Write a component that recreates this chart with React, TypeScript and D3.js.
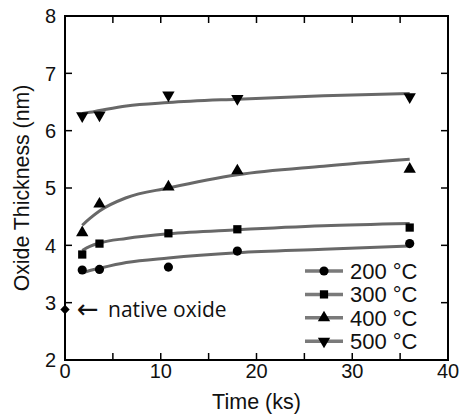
import React from 'react';
import * as d3 from 'd3';

const times = [1.8, 3.6, 10.8, 18, 36];
const seriesLabels = ['200 °C', '300 °C', '400 °C', '500 °C'];
const values200 = [3.57, 3.58, 3.62, 3.9, 4.03];
const values300 = [3.84, 4.03, 4.21, 4.28, 4.31];
const values400 = [4.22, 4.72, 5.02, 5.3, 5.33];
const values500 = [6.26, 6.27, 6.62, 6.56, 6.59];

const fitTimes = [1.8, 2.6, 3.6, 6.4, 10.8, 18, 27, 36];
const fit200 = [3.52, 3.56, 3.6, 3.7, 3.78, 3.87, 3.93, 3.99];
const fit300 = [3.91, 3.98, 4.04, 4.12, 4.2, 4.27, 4.34, 4.38];
const fit400 = [4.35, 4.47, 4.6, 4.83, 5.0, 5.23, 5.38, 5.5];
const fit500 = [6.3, 6.32, 6.35, 6.43, 6.49, 6.55, 6.61, 6.65];

const nativeTime = [0];
const nativeValue = [2.88];
const nativeLabel = 'native oxide';

const W = 461;
const H = 417;
const FONT = '"Liberation Sans", Arial, Helvetica, sans-serif';

export default function App() {
  const x = d3.scaleLinear().domain([0, 40]).range([65, 448]);
  const y = d3.scaleLinear().domain([2, 8]).range([360, 16]);

  const allValues = [values200, values300, values400, values500];
  const allFits = [fit200, fit300, fit400, fit500];
  const symbols = [d3.symbolCircle, d3.symbolSquare, d3.symbolTriangle, d3.symbolTriangle];
  const sizes = [66, 68, 66, 66];
  const rotations = [0, 0, 0, 180];

  const line = d3
    .line<[number, number]>()
    .x((d) => x(d[0]))
    .y((d) => y(d[1]))
    .curve(d3.curveMonotoneX);

  const curveColor = '#686868';

  const xMinor = x.ticks(8);
  const xMajor = x.ticks(4);
  const yTicks = y.ticks(6);
  const tl = 7;

  const legendX0 = 305;
  const legendX1 = 343;
  const legendY0 = 271;
  const legendDy = 23.4;

  return (
    <svg width={W} height={H} style={{ position: 'absolute', left: 0, top: 0, background: '#fff' }} fontFamily={FONT}>
      {/* fit curves */}
      {allFits.map((f, i) => (
        <path
          key={'fit' + i}
          d={line(fitTimes.map((t, j) => [t, f[j]] as [number, number])) || ''}
          fill="none"
          stroke={curveColor}
          strokeWidth={3}
        />
      ))}
      {/* markers */}
      {allValues.map((vals, i) =>
        vals.map((v, j) => (
          <path
            key={'m' + i + '-' + j}
            d={d3.symbol().type(symbols[i]).size(sizes[i])() || ''}
            transform={`translate(${x(times[j])},${y(v)}) rotate(${rotations[i]})`}
            fill="#000"
          />
        ))
      )}
      {/* native oxide */}
      {nativeTime.map((t, i) => (
        <g key={'n' + i}>
          <path
            d={d3.symbol().type(d3.symbolSquare).size(44)() || ''}
            transform={`translate(${x(t)},${y(nativeValue[i])}) rotate(45)`}
            fill="#000"
          />
          <text
            x={x(t) + 12}
            y={y(nativeValue[i]) + 8}
            fontSize={26}
            fill="#111"
            fontFamily='"DejaVu Sans", sans-serif'
          >
            ←
          </text>
          <text
            x={x(t) + 43}
            y={y(nativeValue[i]) + 7.5}
            fontSize={21}
            fill="#111"
            fontFamily='"Open Sans", "Noto Sans", sans-serif'
          >
            {nativeLabel}
          </text>
        </g>
      ))}
      {/* frame */}
      <rect
        x={x(0)}
        y={y(8)}
        width={x(40) - x(0)}
        height={y(2) - y(8)}
        fill="none"
        stroke="#000"
        strokeWidth={2}
      />
      {/* x ticks */}
      {xMinor.map((t) => (
        <g key={'xt' + t}>
          <line x1={x(t)} x2={x(t)} y1={y(2)} y2={y(2) - tl} stroke="#000" strokeWidth={1.5} />
          <line x1={x(t)} x2={x(t)} y1={y(8)} y2={y(8) + tl} stroke="#000" strokeWidth={1.5} />
        </g>
      ))}
      {xMajor.map((t) => (
        <text key={'xl' + t} x={x(t)} y={377.5} textAnchor="middle" fontSize={20} fill="#111">
          {t}
        </text>
      ))}
      {/* y ticks */}
      {yTicks.map((t) => (
        <g key={'yt' + t}>
          <line x1={x(0)} x2={x(0) + tl} y1={y(t)} y2={y(t)} stroke="#000" strokeWidth={1.5} />
          <line x1={x(40)} x2={x(40) - tl} y1={y(t)} y2={y(t)} stroke="#000" strokeWidth={1.5} />
          <text x={56} y={y(t)} dy="0.36em" textAnchor="end" fontSize={20} fill="#111">
            {t}
          </text>
        </g>
      ))}
      {/* axis titles */}
      <text x={(x(0) + x(40)) / 2} y={409} textAnchor="middle" fontSize={21.5} fill="#111">
        Time (ks)
      </text>
      <text
        transform={`translate(29,${(y(2) + y(8)) / 2}) rotate(-90)`}
        textAnchor="middle"
        fontSize={21.3}
        fill="#111"
      >
        Oxide Thickness (nm)
      </text>
      {/* legend */}
      {seriesLabels.map((lab, i) => {
        const ly = legendY0 + i * legendDy;
        return (
          <g key={'lg' + i}>
            <line x1={legendX0} x2={legendX1} y1={ly} y2={ly} stroke="#7a7a7a" strokeWidth={3.5} />
            <path
              d={d3.symbol().type(symbols[i]).size(sizes[i])() || ''}
              transform={`translate(${(legendX0 + legendX1) / 2},${ly}) rotate(${rotations[i]})`}
              fill="#000"
            />
            <text x={350} y={ly} dy="0.36em" fontSize={22} fill="#111">
              {lab}
            </text>
          </g>
        );
      })}
    </svg>
  );
}
